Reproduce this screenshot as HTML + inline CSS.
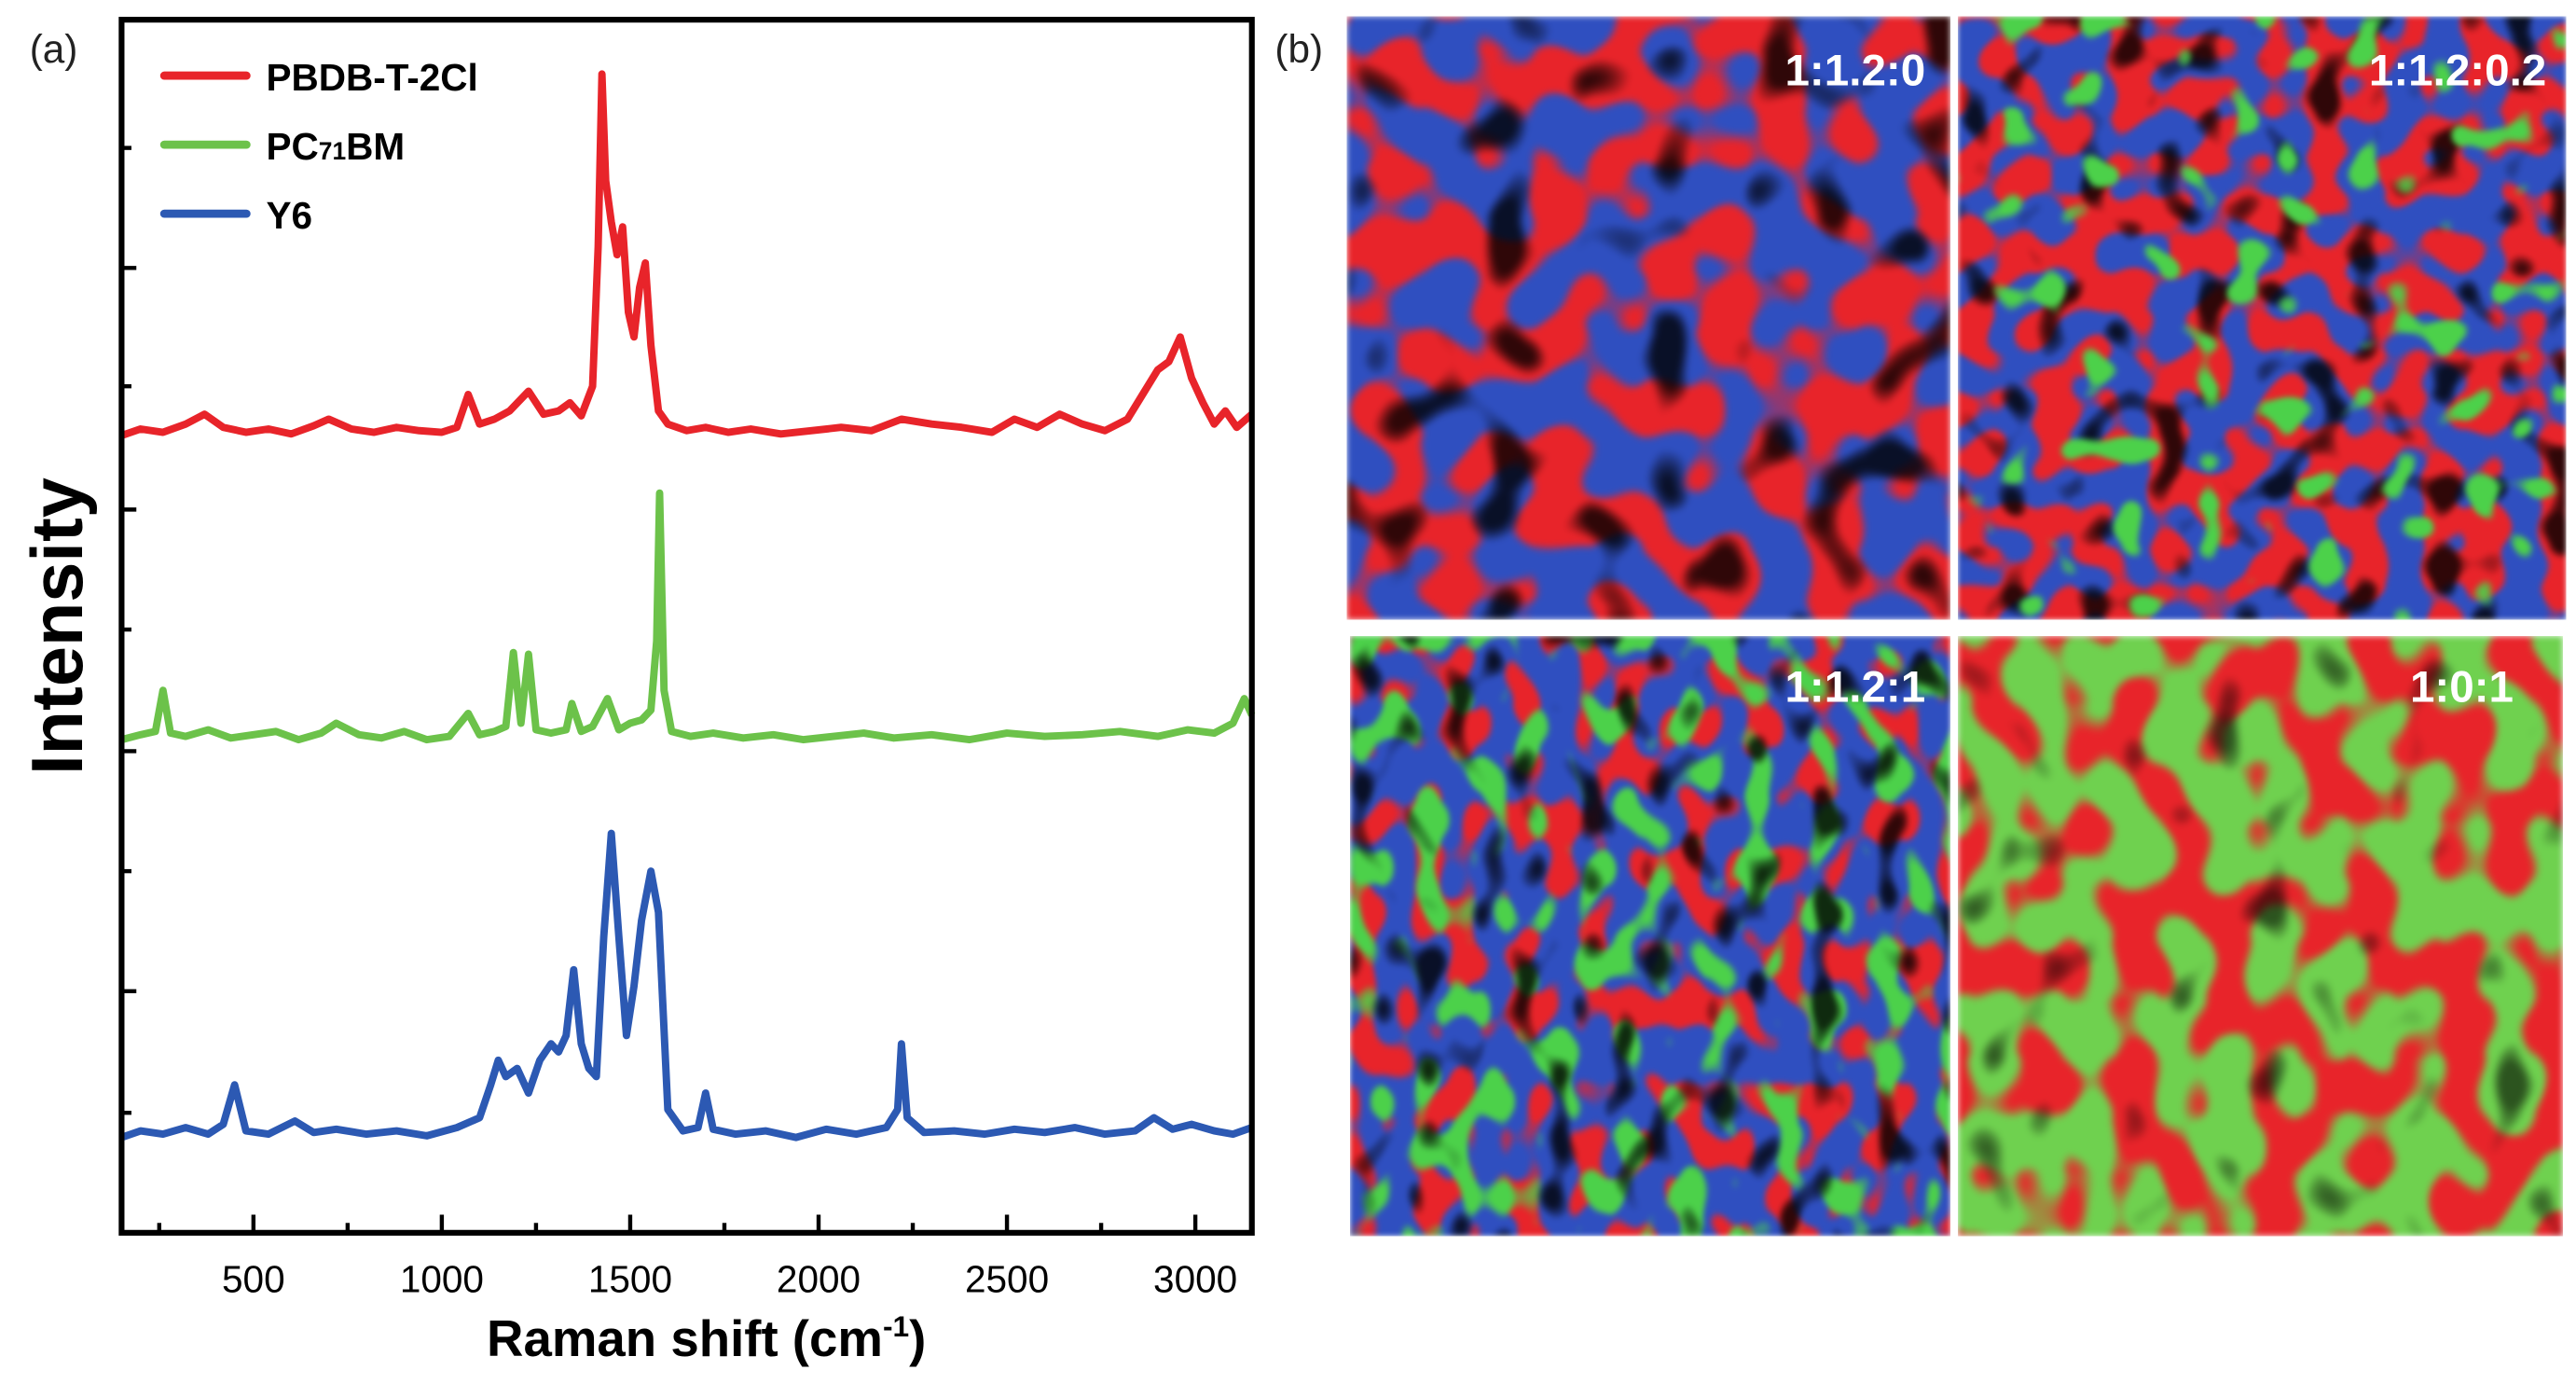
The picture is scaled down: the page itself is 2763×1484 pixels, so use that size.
<!DOCTYPE html>
<html><head><meta charset="utf-8">
<style>
html,body{margin:0;padding:0;background:#fff;}
svg{display:block;}
text{font-family:"Liberation Sans",Arial,sans-serif;}
</style></head>
<body>
<svg id="fig" width="2763" height="1484" viewBox="0 0 1568 842" preserveAspectRatio="none" xmlns="http://www.w3.org/2000/svg">
<defs>
  <filter id="fTL" x="0" y="0" width="1" height="1" color-interpolation-filters="sRGB">
    <feTurbulence type="fractalNoise" baseFrequency="0.03" numOctaves="1" seed="4" result="n"/>
    <feColorMatrix in="n" type="matrix" values="0 0 0 0 0 0 0 0 0 0 0 0 0 0 0 1 0 0 0 0" result="ra"/>
    <feComponentTransfer in="ra" result="rm"><feFuncA type="linear" slope="14" intercept="-6.6"/></feComponentTransfer>
    <feFlood flood-color="#e8242a" result="rc"/><feComposite in="rc" in2="rm" operator="in" result="red"/>
    <feColorMatrix in="n" type="matrix" values="0 0 0 0 0 0 0 0 0 0 0 0 0 0 0 0 0 1 0 0" result="ba"/>
    <feComponentTransfer in="ba" result="bm"><feFuncA type="linear" slope="8" intercept="-4.6"/></feComponentTransfer>
    <feFlood flood-color="#000" flood-opacity="0.8" result="kc"/><feComposite in="kc" in2="bm" operator="in" result="blk"/>
    <feFlood flood-color="#2f4fc0" result="base"/>
    <feMerge><feMergeNode in="base"/><feMergeNode in="red"/><feMergeNode in="blk"/></feMerge>
    <feGaussianBlur stdDeviation="1.8"/>
  </filter>
  <filter id="fTR" x="0" y="0" width="1" height="1" color-interpolation-filters="sRGB">
    <feTurbulence type="fractalNoise" baseFrequency="0.042" numOctaves="1" seed="11" result="n"/>
    <feColorMatrix in="n" type="matrix" values="0 0 0 0 0 0 0 0 0 0 0 0 0 0 0 1 0 0 0 0" result="ra"/>
    <feComponentTransfer in="ra" result="rm"><feFuncA type="linear" slope="14" intercept="-6.5"/></feComponentTransfer>
    <feFlood flood-color="#e8242a" result="rc"/><feComposite in="rc" in2="rm" operator="in" result="red"/>
    <feColorMatrix in="n" type="matrix" values="0 0 0 0 0 0 0 0 0 0 0 0 0 0 0 0 1 0 0 0" result="ga"/>
    <feComponentTransfer in="ga" result="gm"><feFuncA type="linear" slope="14" intercept="-8.6"/></feComponentTransfer>
    <feFlood flood-color="#4cd14a" result="gc"/><feComposite in="gc" in2="gm" operator="in" result="grn"/>
    <feColorMatrix in="n" type="matrix" values="0 0 0 0 0 0 0 0 0 0 0 0 0 0 0 0 0 1 0 0" result="ba"/>
    <feComponentTransfer in="ba" result="bm"><feFuncA type="linear" slope="8" intercept="-4.6"/></feComponentTransfer>
    <feFlood flood-color="#000" flood-opacity="0.8" result="kc"/><feComposite in="kc" in2="bm" operator="in" result="blk"/>
    <feFlood flood-color="#2f4fc0" result="base"/>
    <feMerge><feMergeNode in="base"/><feMergeNode in="red"/><feMergeNode in="blk"/><feMergeNode in="grn"/></feMerge>
    <feGaussianBlur stdDeviation="1.5"/>
  </filter>
  <filter id="fBL" x="0" y="0" width="1" height="1" color-interpolation-filters="sRGB">
    <feTurbulence type="fractalNoise" baseFrequency="0.05 0.035" numOctaves="1" seed="23" result="n"/>
    <feColorMatrix in="n" type="matrix" values="0 0 0 0 0 0 0 0 0 0 0 0 0 0 0 1 0 0 0 0" result="ra"/>
    <feComponentTransfer in="ra" result="rm"><feFuncA type="linear" slope="14" intercept="-7.2"/></feComponentTransfer>
    <feFlood flood-color="#e8242a" result="rc"/><feComposite in="rc" in2="rm" operator="in" result="red"/>
    <feColorMatrix in="n" type="matrix" values="0 0 0 0 0 0 0 0 0 0 0 0 0 0 0 0 1 0 0 0" result="ga"/>
    <feComponentTransfer in="ga" result="gm"><feFuncA type="linear" slope="14" intercept="-7.6"/></feComponentTransfer>
    <feFlood flood-color="#4cd14a" result="gc"/><feComposite in="gc" in2="gm" operator="in" result="grn"/>
    <feColorMatrix in="n" type="matrix" values="0 0 0 0 0 0 0 0 0 0 0 0 0 0 0 0 0 1 0 0" result="ba"/>
    <feComponentTransfer in="ba" result="bm"><feFuncA type="linear" slope="8" intercept="-4.6"/></feComponentTransfer>
    <feFlood flood-color="#000" flood-opacity="0.8" result="kc"/><feComposite in="kc" in2="bm" operator="in" result="blk"/>
    <feFlood flood-color="#2f4fc0" result="base"/>
    <feMerge><feMergeNode in="base"/><feMergeNode in="red"/><feMergeNode in="grn"/><feMergeNode in="blk"/></feMerge>
    <feGaussianBlur stdDeviation="1.5"/>
  </filter>
  <filter id="fBR" x="0" y="0" width="1" height="1" color-interpolation-filters="sRGB">
    <feTurbulence type="fractalNoise" baseFrequency="0.035 0.028" numOctaves="1" seed="37" result="n"/>
    <feColorMatrix in="n" type="matrix" values="0 0 0 0 0 0 0 0 0 0 0 0 0 0 0 1 0 0 0 0" result="ra"/>
    <feComponentTransfer in="ra" result="rm"><feFuncA type="linear" slope="12" intercept="-5.7"/></feComponentTransfer>
    <feFlood flood-color="#e8242a" result="rc"/><feComposite in="rc" in2="rm" operator="in" result="red"/>
    <feColorMatrix in="n" type="matrix" values="0 0 0 0 0 0 0 0 0 0 0 0 0 0 0 0 0 1 0 0" result="ba"/>
    <feComponentTransfer in="ba" result="bm"><feFuncA type="linear" slope="8" intercept="-5"/></feComponentTransfer>
    <feFlood flood-color="#000" flood-opacity="0.6" result="kc"/><feComposite in="kc" in2="bm" operator="in" result="blk"/>
    <feFlood flood-color="#6fd14f" result="base"/>
    <feMerge><feMergeNode in="base"/><feMergeNode in="red"/><feMergeNode in="blk"/></feMerge>
    <feGaussianBlur stdDeviation="2"/>
  </filter>
</defs>

<text x="18" y="38" font-size="24" fill="#222">(a)</text>
<text x="776" y="38" font-size="24" fill="#222">(b)</text>

<g id="series"></g>
<rect x="74" y="12" width="688" height="738" fill="none" stroke="#000" stroke-width="3.5"/>
<g id="ticks"></g>

<g>
  <line x1="100" y1="46" x2="150" y2="46" stroke="#e8242a" stroke-width="5" stroke-linecap="round"/>
  <text x="162" y="55" font-size="23" font-weight="bold">PBDB-T-2Cl</text>
  <line x1="100" y1="88" x2="150" y2="88" stroke="#6cc24a" stroke-width="5" stroke-linecap="round"/>
  <text x="162" y="97" font-size="23" font-weight="bold">PC<tspan font-size="15">71</tspan>BM</text>
  <line x1="100" y1="130" x2="150" y2="130" stroke="#2c59b3" stroke-width="5" stroke-linecap="round"/>
  <text x="162" y="139" font-size="23" font-weight="bold">Y6</text>
</g>

<text x="430" y="825" font-size="31" font-weight="bold" text-anchor="middle">Raman shift (cm<tspan dy="-12" font-size="18">-1</tspan><tspan dy="12">)</tspan></text>
<text transform="translate(50,381) rotate(-90)" font-size="44" font-weight="bold" text-anchor="middle">Intensity</text>

<g>
  <rect x="820" y="10" width="367" height="367" filter="url(#fTL)"/>
  <rect x="1192" y="10" width="370" height="367" filter="url(#fTR)"/>
  <rect x="822" y="387" width="365" height="365" filter="url(#fBL)"/>
  <rect x="1192" y="387" width="368" height="365" filter="url(#fBR)"/>
  <text x="1172" y="52" font-size="27" font-weight="bold" fill="#fff" text-anchor="end">1:1.2:0</text>
  <text x="1550" y="52" font-size="27" font-weight="bold" fill="#fff" text-anchor="end">1:1.2:0.2</text>
  <text x="1172" y="427" font-size="27" font-weight="bold" fill="#fff" text-anchor="end">1:1.2:1</text>
  <text x="1530" y="427" font-size="27" font-weight="bold" fill="#fff" text-anchor="end">1:0:1</text>
</g>
</svg>
<script>
const xTicks = [500,1000,1500,2000,2500,3000];
const xMinor = [250,750,1250,1750,2250,2750];
const yTicks = [90,163,235,310,383,457,530,603,677];
const redX = [150,200,260,320,370,420,480,540,600,660,700,760,820,880,940,1000,1040,1070,1100,1140,1180,1230,1270,1310,1340,1370,1400,1415,1425,1435,1450,1465,1480,1495,1510,1525,1540,1555,1575,1600,1650,1700,1760,1820,1900,1980,2060,2140,2220,2300,2380,2460,2520,2580,2640,2700,2760,2820,2860,2900,2930,2960,2990,3020,3050,3080,3110,3150];
const redY = [485,489,487,492,498,490,487,489,486,491,495,489,487,490,488,487,490,510,492,495,500,512,498,500,505,497,515,600,705,640,615,595,612,560,545,575,590,540,500,492,488,490,487,489,486,488,490,488,495,492,490,487,495,490,498,492,488,495,510,525,530,545,520,505,492,500,490,498];
const greenX = [150,200,240,260,280,320,380,440,500,560,620,680,720,780,840,900,960,1020,1070,1100,1140,1170,1190,1210,1230,1250,1290,1330,1345,1370,1400,1440,1470,1500,1530,1555,1570,1578,1590,1610,1660,1720,1800,1880,1960,2040,2120,2200,2300,2400,2500,2600,2700,2800,2900,2980,3050,3100,3130,3150];
const greenY = [300,303,305,330,304,302,306,301,303,305,300,304,310,303,301,305,300,302,316,303,305,308,353,310,352,306,304,306,322,305,308,325,306,310,312,318,360,450,330,305,302,304,301,303,300,302,304,301,303,300,304,302,303,305,302,306,304,310,325,315];
const blueX = [150,200,260,320,380,420,450,480,540,610,660,720,800,880,960,1040,1100,1130,1150,1170,1200,1230,1260,1290,1310,1330,1350,1370,1390,1410,1430,1450,1470,1490,1510,1530,1555,1575,1600,1640,1680,1700,1720,1780,1860,1940,2020,2100,2180,2210,2220,2235,2280,2360,2440,2520,2600,2680,2760,2840,2890,2940,2990,3050,3100,3150];
const blueY = [58,62,60,64,60,66,90,62,60,68,61,63,60,62,59,64,70,90,105,95,100,85,105,115,110,120,160,115,100,95,180,243,180,120,150,190,220,195,75,62,64,85,63,60,62,58,63,60,64,75,115,70,61,62,60,63,61,64,60,62,70,63,66,62,60,64];

const NS = 'http://www.w3.org/2000/svg';
const X0 = 74, X1 = 762, XMIN = 150, XMAX = 3150, YB = 750;
function sx(v){ return X0 + (v - XMIN) / (XMAX - XMIN) * (X1 - X0); }
function sy(v){ return YB - v; }

const sg = document.getElementById('series');
function drawSeries(xs, ys, color, name){
  const p = document.createElementNS(NS, 'path');
  let d = '';
  xs.forEach((x, i) => { d += (i ? 'L' : 'M') + sx(x).toFixed(1) + ',' + sy(ys[i]).toFixed(1); });
  p.setAttribute('d', d);
  p.setAttribute('fill', 'none');
  p.setAttribute('stroke', color);
  p.setAttribute('stroke-width', '4.5');
  p.setAttribute('stroke-linejoin', 'round');
  
  
  sg.appendChild(p);
}
drawSeries(redX, redY, '#e8242a', 'series-pbdb-t-2cl');
drawSeries(greenX, greenY, '#6cc24a', 'series-pc71bm');
drawSeries(blueX, blueY, '#2c59b3', 'series-y6');

const tg = document.getElementById('ticks');
function line(x1, y1, x2, y2, name){
  const l = document.createElementNS(NS, 'line');
  l.setAttribute('x1', x1); l.setAttribute('y1', y1); l.setAttribute('x2', x2); l.setAttribute('y2', y2);
  l.setAttribute('stroke', '#000'); l.setAttribute('stroke-width', '2.5');
  
  
  tg.appendChild(l);
}
xTicks.forEach(v => {
  line(sx(v), YB, sx(v), YB - 11, 'x-tick');
  const t = document.createElementNS(NS, 'text');
  t.setAttribute('x', sx(v)); t.setAttribute('y', 786);
  t.setAttribute('font-size', '23'); t.setAttribute('text-anchor', 'middle');
  t.textContent = v;
  
  
  tg.appendChild(t);
});
xMinor.forEach(v => { line(sx(v), YB, sx(v), YB - 6, 'x-minor-tick'); });
yTicks.forEach((y, i) => { line(X0, y, X0 + (i % 2 ? 9 : 6), y, 'y-tick'); });
</script>
</body></html>
